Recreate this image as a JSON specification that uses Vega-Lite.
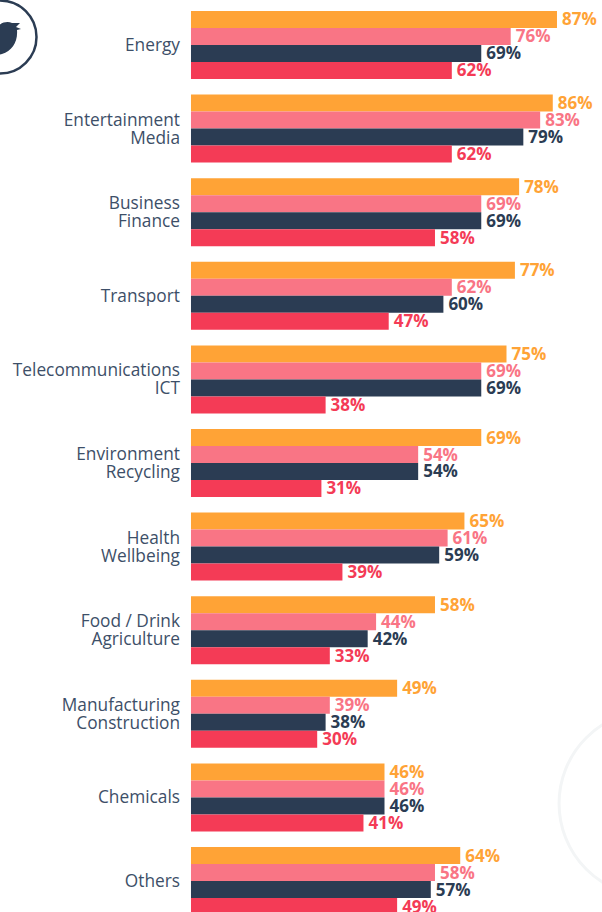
{"$schema":"https://vega.github.io/schema/vega-lite/v6.json","width":602,"height":912,"padding":0,"autosize":{"type":"none"},"background":"white","view":{"stroke":null},"datasets":{"rows":[
{"c":"Energy","s":"A","v":0.87,"l":0.87},{"c":"Energy","s":"B","v":0.76,"l":0.76},{"c":"Energy","s":"C","v":0.69,"l":0.69},{"c":"Energy","s":"D","v":0.62,"l":0.62},
{"c":"Entertainment\nMedia","s":"A","v":0.86,"l":0.86},{"c":"Entertainment\nMedia","s":"B","v":0.83,"l":0.83},{"c":"Entertainment\nMedia","s":"C","v":0.79,"l":0.79},{"c":"Entertainment\nMedia","s":"D","v":0.62,"l":0.62},
{"c":"Business\nFinance","s":"A","v":0.78,"l":0.78},{"c":"Business\nFinance","s":"B","v":0.69,"l":0.69},{"c":"Business\nFinance","s":"C","v":0.69,"l":0.69},{"c":"Business\nFinance","s":"D","v":0.58,"l":0.58},
{"c":"Transport","s":"A","v":0.77,"l":0.77},{"c":"Transport","s":"B","v":0.62,"l":0.62},{"c":"Transport","s":"C","v":0.60,"l":0.60},{"c":"Transport","s":"D","v":0.47,"l":0.47},
{"c":"Telecommunications\nICT","s":"A","v":0.75,"l":0.75},{"c":"Telecommunications\nICT","s":"B","v":0.69,"l":0.69},{"c":"Telecommunications\nICT","s":"C","v":0.69,"l":0.69},{"c":"Telecommunications\nICT","s":"D","v":0.32,"l":0.38},
{"c":"Environment\nRecycling","s":"A","v":0.69,"l":0.69},{"c":"Environment\nRecycling","s":"B","v":0.54,"l":0.54},{"c":"Environment\nRecycling","s":"C","v":0.54,"l":0.54},{"c":"Environment\nRecycling","s":"D","v":0.31,"l":0.31},
{"c":"Health\nWellbeing","s":"A","v":0.65,"l":0.65},{"c":"Health\nWellbeing","s":"B","v":0.61,"l":0.61},{"c":"Health\nWellbeing","s":"C","v":0.59,"l":0.59},{"c":"Health\nWellbeing","s":"D","v":0.36,"l":0.39},
{"c":"Food / Drink\nAgriculture","s":"A","v":0.58,"l":0.58},{"c":"Food / Drink\nAgriculture","s":"B","v":0.44,"l":0.44},{"c":"Food / Drink\nAgriculture","s":"C","v":0.42,"l":0.42},{"c":"Food / Drink\nAgriculture","s":"D","v":0.33,"l":0.33},
{"c":"Manufacturing\nConstruction","s":"A","v":0.49,"l":0.49},{"c":"Manufacturing\nConstruction","s":"B","v":0.33,"l":0.39},{"c":"Manufacturing\nConstruction","s":"C","v":0.32,"l":0.38},{"c":"Manufacturing\nConstruction","s":"D","v":0.30,"l":0.30},
{"c":"Chemicals","s":"A","v":0.46,"l":0.46},{"c":"Chemicals","s":"B","v":0.46,"l":0.46},{"c":"Chemicals","s":"C","v":0.46,"l":0.46},{"c":"Chemicals","s":"D","v":0.41,"l":0.41},
{"c":"Others","s":"A","v":0.64,"l":0.64},{"c":"Others","s":"B","v":0.58,"l":0.58},{"c":"Others","s":"C","v":0.57,"l":0.57},{"c":"Others","s":"D","v":0.49,"l":0.49}
],
"decor":[{"x":-0.454,"y":0.0406,"k":"badge"},{"x":1.096,"y":0.881,"k":"ring"}]},
"resolve":{"scale":{"y":"independent"}},
"layer":[
{"data":{"name":"decor"},"transform":[{"filter":"datum.k=='ring'"}],"mark":{"type":"point","shape":"circle","size":34596,"filled":false,"stroke":"#f3f5f6","strokeWidth":3,"opacity":1},"encoding":{"x":{"field":"x","type":"quantitative","scale":{"domain":[-0.454,0.977],"nice":false,"zero":false},"axis":null},"y":{"field":"y","type":"quantitative","scale":{"domain":[0,1],"reverse":true,"nice":false},"axis":null}}},
{"data":{"name":"decor"},"transform":[{"filter":"datum.k=='badge'"}],"mark":{"type":"point","shape":"circle","size":5329,"filled":false,"stroke":"#2b3c53","strokeWidth":2.5,"opacity":1},"encoding":{"x":{"field":"x","type":"quantitative","axis":null},"y":{"field":"y","type":"quantitative","scale":{"domain":[0,1],"reverse":true,"nice":false},"axis":null}}},
{"data":{"name":"decor"},"transform":[{"filter":"datum.k=='badge'"}],"mark":{"type":"point","shape":"M-25,3 C-15,-6 -8,-10 -2,-11 C2,-15 8,-16 12,-14 L20,-14 L16,-10 L21,-8 L17,-7 C18,5 12,14 2,17 C-8,20 -20,14 -25,3 Z","size":4,"filled":true,"fill":"#2b3c53","opacity":1,"strokeWidth":0},"encoding":{"x":{"field":"x","type":"quantitative","axis":null},"y":{"field":"y","type":"quantitative","scale":{"domain":[0,1],"reverse":true,"nice":false},"axis":null}}},
{"layer":[
{"mark":{"type":"bar"},"encoding":{"x":{"field":"v","type":"quantitative","axis":null},"y":{"field":"c","type":"nominal","sort":null,"scale":{"range":[11,915],"paddingInner":0.187,"paddingOuter":0},"axis":null},"yOffset":{"field":"s","type":"nominal","scale":{"domain":["A","B","C","D"],"paddingInner":0,"paddingOuter":0}},"color":{"field":"s","type":"nominal","scale":{"domain":["A","B","C","D"],"range":["#ffa336","#f97585","#2b3c53","#f43b56"]},"legend":null}}},
{"mark":{"type":"text","align":"left","baseline":"middle","dx":5,"dy":1,"font":"Open Sans","fontWeight":"bold","fontSize":17},"encoding":{"x":{"field":"v","type":"quantitative","axis":null},"y":{"field":"c","type":"nominal","sort":null,"axis":null},"yOffset":{"field":"s","type":"nominal"},"text":{"field":"l","type":"quantitative","format":".0%"},"color":{"field":"s","type":"nominal","legend":null}}},
{"transform":[{"filter":"datum.s=='A' && indexof(datum.c,'\\n')<0"}],"mark":{"type":"text","align":"right","baseline":"middle","dx":-11,"dy":1,"font":"Open Sans","fontSize":17.3,"fill":"#3d4f68"},"encoding":{"x":{"datum":0,"type":"quantitative","axis":null},"y":{"field":"c","type":"nominal","sort":null,"axis":null},"text":{"field":"c"}}},
{"transform":[{"filter":"datum.s=='A' && indexof(datum.c,'\\n')>=0"}],"mark":{"type":"text","align":"right","baseline":"middle","dx":-11,"dy":-8,"font":"Open Sans","fontSize":17.3,"lineHeight":18,"lineBreak":"\n","fill":"#3d4f68"},"encoding":{"x":{"datum":0,"type":"quantitative","axis":null},"y":{"field":"c","type":"nominal","sort":null,"axis":null},"text":{"field":"c"}}}
],"data":{"name":"rows"}}
]}
